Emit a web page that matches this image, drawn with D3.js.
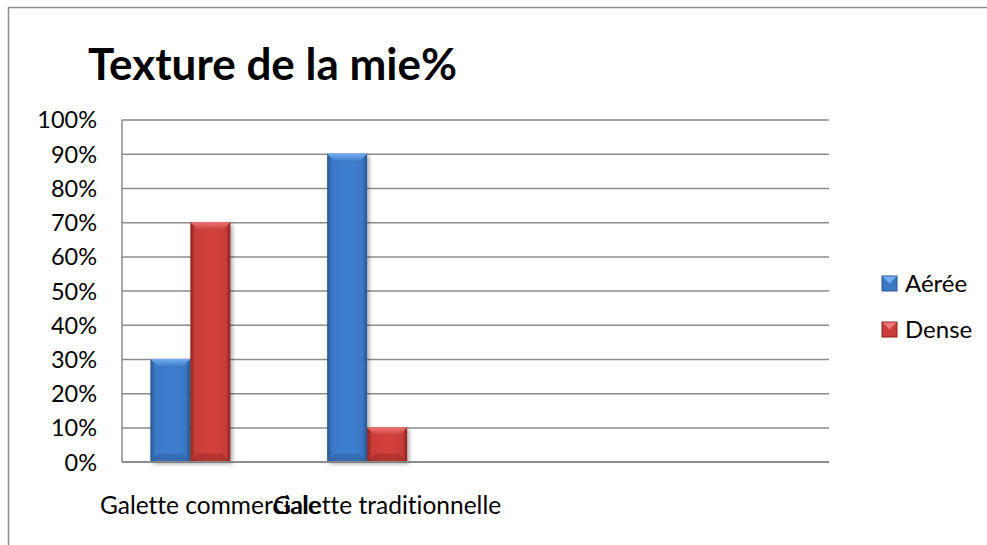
<!DOCTYPE html>
<html lang="fr">
<head>
  <meta charset="UTF-8">
  <title>Texture de la mie%</title>
  <script src="https://d3js.org/d3.v7.min.js"></script>
  <style>
    body {
      margin: 0;
      background: #fff;
      font-family: Lato, "Open Sans", sans-serif;
    }
    svg { display: block; }
    text { font-variant-ligatures: none; }
    .tick text { fill: #000; }
  </style>
</head>
<body>
  <svg id="chart"></svg>
  <script>
    // data
    const categories = ["Galette commerciale", "Galette traditionnelle", "", ""];
    const seriesNames = ["Aérée", "Dense"];
    const aereeValues = [30, 90, null, null];
    const denseValues = [70, 10, null, null];
    const yTicks = [0, 10, 20, 30, 40, 50, 60, 70, 80, 90, 100];

    const width = 987;
    const height = 545;
    const plot = { left: 122, right: 829, top: 119.5, bottom: 461.7 };

    const colors = {
      "Aérée": { base: "#3b78c4", dark: "#27568f", light: "#72aef0" },
      "Dense": { base: "#c93d39", dark: "#8a2420", light: "#ee7673" }
    };

    const svg = d3.select("#chart")
      .attr("width", width)
      .attr("height", height);

    const defs = svg.append("defs");
    defs.append("filter")
      .attr("id", "shadow")
      .attr("x", "-20%").attr("y", "-20%")
      .attr("width", "150%").attr("height", "150%")
      .append("feDropShadow")
      .attr("dx", 2).attr("dy", 2)
      .attr("stdDeviation", 2)
      .attr("flood-opacity", 0.35);

    seriesNames.forEach((s, i) => {
      const g = defs.append("linearGradient")
        .attr("id", "grad" + i)
        .attr("x1", 0).attr("x2", 1).attr("y1", 0).attr("y2", 0);
      g.append("stop").attr("offset", "0%").attr("stop-color", colors[s].dark);
      g.append("stop").attr("offset", "12%").attr("stop-color", colors[s].base);
      g.append("stop").attr("offset", "55%").attr("stop-color", d3.color(colors[s].base).brighter(0.15));
      g.append("stop").attr("offset", "88%").attr("stop-color", colors[s].base);
      g.append("stop").attr("offset", "100%").attr("stop-color", colors[s].dark);

      const t = defs.append("linearGradient")
        .attr("id", "top" + i)
        .attr("x1", 0).attr("x2", 0).attr("y1", 0).attr("y2", 1);
      t.append("stop").attr("offset", "0%").attr("stop-color", colors[s].light);
      t.append("stop").attr("offset", "100%").attr("stop-color", colors[s].base);
    });

    // outer frame of the chart
    svg.append("rect")
      .attr("x", 8.5).attr("y", 7.5)
      .attr("width", 1000).attr("height", 600)
      .attr("fill", "none")
      .attr("stroke", "#8c8c8c")
      .attr("stroke-width", 1.5);

    // title
    svg.append("text")
      .attr("x", 88)
      .attr("y", 80)
      .attr("font-size", 44)
      .attr("font-weight", "bold")
      .text("Texture de la mie%");

    // scales
    const x = d3.scaleBand()
      .domain(d3.range(categories.length))
      .range([plot.left, plot.right]);

    // three bar slots per category (third slot is empty in the source sheet)
    const xs = d3.scaleBand()
      .domain([...seriesNames, "_"])
      .range([0, x.bandwidth()])
      .paddingOuter(0.71);

    const y = d3.scaleLinear()
      .domain([0, 100])
      .range([plot.bottom, plot.top]);

    // gridlines + y labels
    const yAxis = d3.axisLeft(y)
      .tickValues(yTicks)
      .tickSize(-(plot.right - plot.left))
      .tickPadding(25)
      .tickFormat(d => d + "%");

    const gy = svg.append("g")
      .attr("transform", `translate(${plot.left},0)`)
      .call(yAxis);
    gy.select(".domain").remove();
    gy.selectAll(".tick line")
      .attr("stroke", "#8c8c8c")
      .attr("stroke-width", 1.5);
    gy.selectAll(".tick text")
      .attr("font-size", 23.5)
      .attr("font-family", "Lato, sans-serif")
      .attr("dy", "0.36em");

    // vertical axis line
    svg.append("line")
      .attr("x1", plot.left).attr("x2", plot.left)
      .attr("y1", plot.top).attr("y2", plot.bottom)
      .attr("stroke", "#8c8c8c")
      .attr("stroke-width", 1.5);

    // x labels
    const xAxis = d3.axisBottom(x)
      .tickSize(0)
      .tickPadding(35)
      .tickFormat(i => categories[i]);
    const gx = svg.append("g")
      .attr("transform", `translate(0,${plot.bottom})`)
      .call(xAxis);
    gx.select(".domain").remove();
    gx.selectAll(".tick text")
      .attr("font-size", 24.5)
      .attr("font-family", "Lato, sans-serif");

    // bars
    const rows = [];
    categories.forEach((c, i) => {
      [aereeValues, denseValues].forEach((vals, k) => {
        if (vals[i] != null) rows.push({ i, s: seriesNames[k], k, v: vals[i] });
      });
    });

    const bevel = 8;
    const bars = svg.append("g").selectAll("g.bar")
      .data(rows)
      .join("g")
      .attr("class", "bar")
      .attr("transform", d => `translate(${x(d.i) + xs(d.s)},0)`);

    bars.append("rect")
      .attr("x", 0)
      .attr("y", d => y(d.v))
      .attr("width", xs.bandwidth())
      .attr("height", d => y(0) - y(d.v))
      .attr("fill", d => `url(#grad${d.k})`)
      .attr("filter", "url(#shadow)");

    // top bevel
    bars.append("path")
      .attr("d", d => {
        const t = y(d.v), w = xs.bandwidth();
        const b = Math.min(bevel, (y(0) - t) / 2);
        return `M0,${t}L${w},${t}L${w - b},${t + b}L${b},${t + b}Z`;
      })
      .attr("fill", d => `url(#top${d.k})`);

    // bottom bevel
    bars.append("path")
      .attr("d", d => {
        const t = y(d.v), bt = y(0), w = xs.bandwidth();
        const b = Math.min(bevel, (bt - t) / 2);
        return `M0,${bt}L${w},${bt}L${w - b},${bt - b}L${b},${bt - b}Z`;
      })
      .attr("fill", d => colors[d.s].dark)
      .attr("opacity", 0.4);

    // bottom axis line
    svg.append("line")
      .attr("x1", plot.left).attr("x2", plot.right)
      .attr("y1", plot.bottom).attr("y2", plot.bottom)
      .attr("stroke", "#8c8c8c")
      .attr("stroke-width", 1.5);

    // legend
    const legend = svg.append("g")
      .attr("transform", "translate(882,276)");
    const item = legend.selectAll("g")
      .data(seriesNames)
      .join("g")
      .attr("transform", (d, i) => `translate(0,${i * 46})`);
    item.append("rect")
      .attr("width", 15).attr("height", 15)
      .attr("fill", d => colors[d].base)
      .attr("stroke", d => colors[d].dark)
      .attr("stroke-width", 1);
    item.append("path")
      .attr("d", "M0.5,0.5L14.5,0.5L7.5,7.5Z")
      .attr("fill", d => colors[d].light);
    item.append("text")
      .attr("x", 23)
      .attr("y", 16)
      .attr("font-size", 24)
      .text(d => d);
  </script>
</body>
</html>
